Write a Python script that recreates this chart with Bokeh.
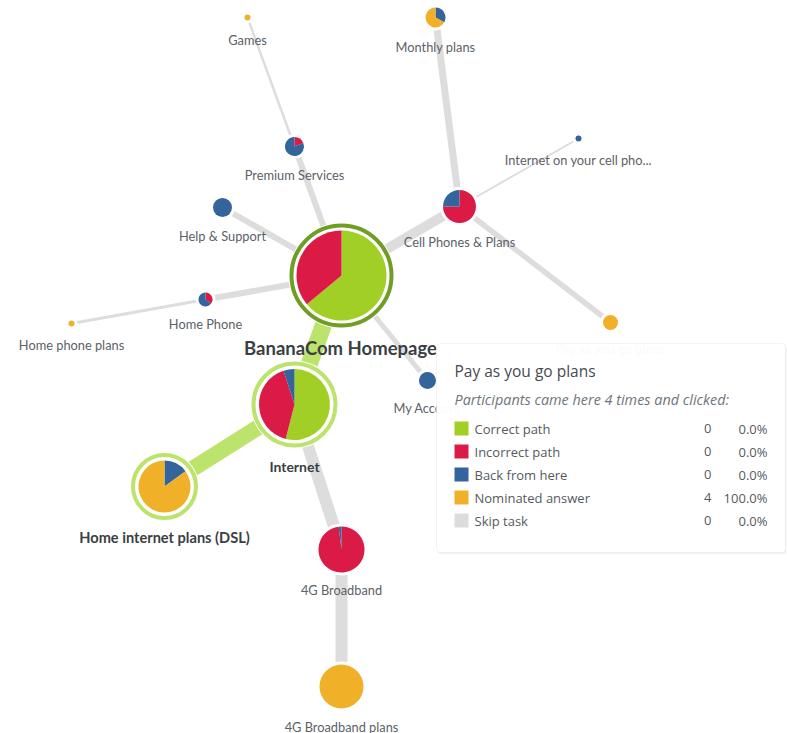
import math
from bokeh.plotting import figure
from bokeh.models import Range1d, BoxAnnotation, ColumnDataSource
from bokeh.core.properties import value
from bokeh.embed import file_html
from bokeh.resources import INLINE

# ---------------- data ----------------
categories = ["Correct path", "Incorrect path", "Back from here", "Nominated answer", "Skip task"]
cat_colors = ["#a1cf25", "#dc1a46", "#33659c", "#f0b129", "#dcdcdc"]

nodes = ["BananaCom Homepage", "Premium Services", "Games", "Help & Support", "Home Phone",
         "Home phone plans", "Cell Phones & Plans", "Monthly plans", "Internet on your cell pho...",
         "Pay as you go plans", "My Account", "Internet", "Home internet plans (DSL)",
         "4G Broadband", "4G Broadband plans"]
parents = [None, "BananaCom Homepage", "Premium Services", "BananaCom Homepage", "BananaCom Homepage",
           "Home Phone", "BananaCom Homepage", "Cell Phones & Plans", "Cell Phones & Plans",
           "Cell Phones & Plans", "BananaCom Homepage", "BananaCom Homepage", "Internet",
           "Internet", "4G Broadband"]
# percent of clicks per category (correct, incorrect, back, nominated, skip)
correct   = [64, 0, 0, 0, 0, 0, 0, 0, 0, 0, 0, 54, 0, 0, 0]
incorrect = [36, 19, 0, 0, 35, 0, 75, 0, 0, 0, 0, 41, 0, 98, 0]
back      = [0, 81, 0, 100, 65, 0, 25, 33, 100, 0, 100, 5, 15, 2, 0]
nominated = [0, 0, 100, 0, 0, 100, 0, 67, 0, 100, 0, 0, 85, 0, 100]
skip      = [0, 0, 0, 0, 0, 0, 0, 0, 0, 0, 0, 0, 0, 0, 0]
on_correct_path = ["BananaCom Homepage", "Internet", "Home internet plans (DSL)"]

tip_title = "Pay as you go plans"
tip_sub = "Participants came here 4 times and clicked:"
tip_counts = [0, 0, 0, 4, 0]
tip_pcts = ["0.0%", "0.0%", "0.0%", "100.0%", "0.0%"]

# ---------------- layout (page pixel positions) ----------------
pos = {
    "BananaCom Homepage": (341, 275), "Premium Services": (294, 146), "Games": (247, 17),
    "Help & Support": (222, 207), "Home Phone": (205, 299), "Home phone plans": (71, 323),
    "Cell Phones & Plans": (459, 206), "Monthly plans": (435, 17),
    "Internet on your cell pho...": (578, 138), "Pay as you go plans": (610, 322),
    "My Account": (427, 380), "Internet": (294, 404), "Home internet plans (DSL)": (164, 486),
    "4G Broadband": (341, 549), "4G Broadband plans": (341, 686),
}
radius = {
    "BananaCom Homepage": 45, "Premium Services": 9.5, "Games": 3, "Help & Support": 9.5,
    "Home Phone": 7, "Home phone plans": 3, "Cell Phones & Plans": 16.5, "Monthly plans": 10,
    "Internet on your cell pho...": 3, "Pay as you go plans": 7.5, "My Account": 8.5,
    "Internet": 35.5, "Home internet plans (DSL)": 26, "4G Broadband": 23, "4G Broadband plans": 22,
}
ring = {"BananaCom Homepage": (50, "#709d24"), "Internet": (41, "#bce46c"),
        "Home internet plans (DSL)": (31.5, "#bce46c")}
label_pos = {
    "BananaCom Homepage": (340, 347), "Premium Services": (294, 174), "Games": (247, 39),
    "Help & Support": (222, 235), "Home Phone": (205, 323), "Home phone plans": (71, 344),
    "Cell Phones & Plans": (459, 241), "Monthly plans": (435, 46),
    "Internet on your cell pho...": (578, 159), "Pay as you go plans": (610, 348),
    "My Account": (427, 407), "Internet": (294, 466), "Home internet plans (DSL)": (164, 537),
    "4G Broadband": (341, 589), "4G Broadband plans": (341, 726),
}
edge_width = {
    "Premium Services": 6, "Games": 2.5, "Help & Support": 6, "Home Phone": 6,
    "Home phone plans": 3, "Cell Phones & Plans": 10, "Monthly plans": 7,
    "Internet on your cell pho...": 2, "Pay as you go plans": 5.5, "My Account": 5,
    "Internet": 17, "Home internet plans (DSL)": 16, "4G Broadband": 12, "4G Broadband plans": 12,
}

W, H = 787, 733
def Y(y):
    return H - y

FONT = "Lato"
TFONT = "Open Sans"

p = figure(width=W, height=H, x_range=Range1d(0, W), y_range=Range1d(0, H),
           output_backend="svg", toolbar_location=None, min_border=0)
p.axis.visible = False
p.grid.visible = False
p.outline_line_color = None
p.background_fill_color = "white"
p.border_fill_color = "white"

# ---------------- edges ----------------
ex0, ey0, ex1, ey1, ew, ec = [], [], [], [], [], []
for n, par in zip(nodes, parents):
    if par is None:
        continue
    x0, y0 = pos[par]
    x1, y1 = pos[n]
    ex0.append(x0); ey0.append(Y(y0)); ex1.append(x1); ey1.append(Y(y1))
    ew.append(edge_width[n])
    ec.append("#bce46c" if (n in on_correct_path and par in on_correct_path) else "#dddddd")
p.segment(x0="x0", y0="y0", x1="x1", y1="y1", line_width="w", line_color="c",
          source=ColumnDataSource(dict(x0=ex0, y0=ey0, x1=ex1, y1=ey1, w=ew, c=ec)))

# ---------------- white masks and rings ----------------
mx, my, mr = [], [], []
for n in nodes:
    x, y = pos[n]
    r = ring[n][0] + 3 if n in ring else radius[n] + 3
    mx.append(x); my.append(Y(y)); mr.append(r)
p.circle(x=mx, y=my, radius=mr, fill_color="white", line_color=None)
for n, (rr, col) in ring.items():
    x, y = pos[n]
    p.circle(x=[x], y=[Y(y)], radius=[rr], fill_color=None, line_color=col, line_width=4)

# ---------------- pies ----------------
wx, wy, wr, ws, we, wc = [], [], [], [], [], []
cx, cy, cr, cc = [], [], [], []
for i, n in enumerate(nodes):
    vals = [correct[i], incorrect[i], back[i], nominated[i], skip[i]]
    tot = sum(vals)
    x, y = pos[n]
    if max(vals) == tot:
        k = vals.index(tot)
        cx.append(x); cy.append(Y(y)); cr.append(radius[n]); cc.append(cat_colors[k])
        continue
    acc = 0.0
    for k, v in enumerate(vals):
        if v <= 0:
            continue
        t1 = acc / tot * 2 * math.pi
        acc += v
        t2 = acc / tot * 2 * math.pi
        wx.append(x); wy.append(Y(y)); wr.append(radius[n])
        ws.append(math.pi / 2 - t2); we.append(math.pi / 2 - t1); wc.append(cat_colors[k])
p.circle(x="x", y="y", radius="r", fill_color="c", line_color=None,
         source=ColumnDataSource(dict(x=cx, y=cy, r=cr, c=cc)))
p.wedge(x="x", y="y", radius="r", start_angle="s", end_angle="e", fill_color="c",
        line_color=None, source=ColumnDataSource(dict(x=wx, y=wy, r=wr, s=ws, e=we, c=wc)))

# ---------------- labels ----------------
bold_nodes = {"BananaCom Homepage": "18.5px", "Internet": "14px", "Home internet plans (DSL)": "14.6px"}
lx, ly, lt = [], [], []
for n in nodes:
    x, y = label_pos[n]
    if n in bold_nodes:
        p.text(x=[x], y=[Y(y)], text=[n], text_font=value(FONT), text_font_size=bold_nodes[n],
               text_font_style="bold", text_color="#3b3e42", text_align="center",
               text_baseline="middle")
    else:
        lx.append(x); ly.append(Y(y)); lt.append(n)
p.text(x=lx, y=ly, text=lt, text_font=value(FONT), text_font_size="12.8px",
       text_color="#5c6168", text_align="center", text_baseline="middle")

# ---------------- tooltip ----------------
L, R, T, B = 436, 785, 343, 552
p.add_layout(BoxAnnotation(left=L + 1, right=R + 1, top=Y(T) - 2, bottom=Y(B) - 2,
                           fill_color="#000000", fill_alpha=0.05, line_color=None,
                           border_radius=4))
p.add_layout(BoxAnnotation(left=L, right=R, top=Y(T), bottom=Y(B), fill_color="white",
                           fill_alpha=0.97, line_color="#d6d6d6", line_width=1,
                           border_radius=4))
p.text(x=[454], y=[Y(370)], text=[tip_title], text_font=value(TFONT), text_font_size="15.5px",
       text_color="#464b50", text_baseline="middle", level="overlay")
p.text(x=[454], y=[Y(399)], text=[tip_sub], text_font=value(TFONT), text_font_size="14.4px",
       text_font_style="italic", text_color="#6f757c", text_baseline="middle", level="overlay")
row_y = [Y(428 + 23 * k) for k in range(5)]
p.rect(x=[461] * 5, y=row_y, width=14, height=14, fill_color=cat_colors, line_color=None,
       level="overlay")
p.text(x=[474] * 5, y=row_y, text=categories, text_font=value(TFONT), text_font_size="13px",
       text_color="#555a60", text_baseline="middle", level="overlay")
p.text(x=[711] * 5, y=row_y, text=[str(c) for c in tip_counts], text_font=value(TFONT),
       text_font_size="13px", text_color="#555a60", text_baseline="middle", text_align="right",
       level="overlay")
p.text(x=[767] * 5, y=row_y, text=tip_pcts, text_font=value(TFONT), text_font_size="13px",
       text_color="#555a60", text_baseline="middle", text_align="right", level="overlay")

open("out.html", "w").write(file_html(p, INLINE))
